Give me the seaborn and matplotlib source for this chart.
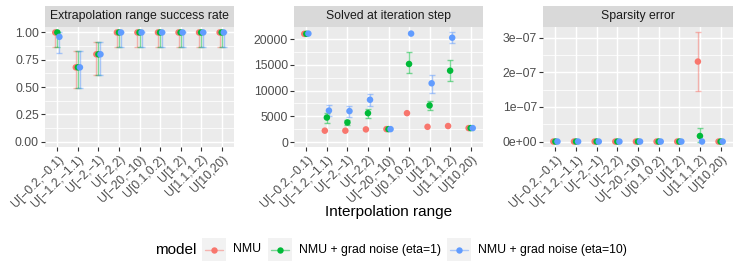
import numpy as np
import pandas as pd
import matplotlib.pyplot as plt
from matplotlib.patches import Rectangle
from matplotlib.lines import Line2D
from matplotlib.ticker import MultipleLocator, FuncFormatter
import seaborn as sns

# ---- data ----
ranges = ['U[−0.2,−0.1)', 'U[−1.2,−1.1)', 'U[−2,−1)', 'U[−2,2)', 'U[−20,−10)',
          'U[0.1,0.2)', 'U[1,2)', 'U[1.1,1.2)', 'U[10,20)']
models = ['NMU', 'NMU + grad noise (eta=1)', 'NMU + grad noise (eta=10)']
colors = ['#F8766D', '#00BA38', '#619CFF']
nan = np.nan

# Extrapolation range success rate
succ_nmu = [1.0, 0.68, 0.80, 1.0, 1.0, 1.0, 1.0, 1.0, 1.0]
succ_nmu_lo = [0.87, 0.49, 0.61, 0.87, 0.87, 0.87, 0.87, 0.87, 0.87]
succ_nmu_hi = [1.0, 0.83, 0.91, 1.0, 1.0, 1.0, 1.0, 1.0, 1.0]
succ_eta1 = [1.0, 0.68, 0.80, 1.0, 1.0, 1.0, 1.0, 1.0, 1.0]
succ_eta1_lo = [0.87, 0.49, 0.61, 0.87, 0.87, 0.87, 0.87, 0.87, 0.87]
succ_eta1_hi = [1.0, 0.83, 0.91, 1.0, 1.0, 1.0, 1.0, 1.0, 1.0]
succ_eta10 = [0.96, 0.68, 0.80, 1.0, 1.0, 1.0, 1.0, 1.0, 1.0]
succ_eta10_lo = [0.81, 0.49, 0.61, 0.87, 0.87, 0.87, 0.87, 0.87, 0.87]
succ_eta10_hi = [1.0, 0.83, 0.91, 1.0, 1.0, 1.0, 1.0, 1.0, 1.0]

# Solved at iteration step
step_nmu = [21000, 2200, 2200, 2450, 2500, 5600, 2950, 3100, 2700]
step_nmu_lo = [nan] * 9
step_nmu_hi = [nan] * 9
step_eta1 = [21000, 4750, 3800, 5600, 2500, 15150, 7100, 13850, 2700]
step_eta1_lo = [nan, 3680, 3230, 4700, nan, 13350, 6250, 11850, nan]
step_eta1_hi = [nan, 5600, 4320, 6380, nan, 17400, 7950, 15950, nan]
step_eta10 = [21050, 6100, 6000, 8200, 2500, 21050, 11400, 20250, 2700]
step_eta10_lo = [nan, 5100, 4950, 7030, nan, nan, 9480, 19150, nan]
step_eta10_hi = [nan, 7220, 7030, 9290, nan, nan, 13100, 21300, nan]

# Sparsity error
sparse_nmu = [0, 0, 0, 0, 0, 0, 0, 2.31e-7, 0]
sparse_nmu_lo = [nan, nan, nan, nan, nan, nan, nan, 1.47e-7, nan]
sparse_nmu_hi = [nan, nan, nan, nan, nan, nan, nan, 3.15e-7, nan]
sparse_eta1 = [0, 0, 0, 0, 0, 0, 0, 1.6e-8, 0]
sparse_eta1_lo = [nan, nan, nan, nan, nan, nan, nan, 0.0, nan]
sparse_eta1_hi = [nan, nan, nan, nan, nan, nan, nan, 4.0e-8, nan]
sparse_eta10 = [0, 0, 0, 0, 0, 0, 0, 0, 0]
sparse_eta10_lo = [nan] * 9
sparse_eta10_hi = [nan] * 9

panels = [
    ('Extrapolation range success rate',
     [(succ_nmu, succ_nmu_lo, succ_nmu_hi), (succ_eta1, succ_eta1_lo, succ_eta1_hi),
      (succ_eta10, succ_eta10_lo, succ_eta10_hi)]),
    ('Solved at iteration step',
     [(step_nmu, step_nmu_lo, step_nmu_hi), (step_eta1, step_eta1_lo, step_eta1_hi),
      (step_eta10, step_eta10_lo, step_eta10_hi)]),
    ('Sparsity error',
     [(sparse_nmu, sparse_nmu_lo, sparse_nmu_hi), (sparse_eta1, sparse_eta1_lo, sparse_eta1_hi),
      (sparse_eta10, sparse_eta10_lo, sparse_eta10_hi)]),
]

# ---- style ----
sns.set_theme(style='darkgrid', rc={
    'axes.facecolor': '#EBEBEB',
    'grid.color': 'white',
    'axes.edgecolor': 'none',
    'xtick.bottom': True,
    'ytick.left': True,
    'xtick.color': '#333333',
    'ytick.color': '#333333',
    'xtick.labelcolor': '#4D4D4D',
    'ytick.labelcolor': '#4D4D4D',
    'xtick.major.size': 2.75,
    'ytick.major.size': 2.75,
    'xtick.major.width': 0.8,
    'ytick.major.width': 0.8,
    'xtick.major.pad': 1.6,
    'ytick.major.pad': 1.6,
    'xtick.labelsize': 8.8,
    'ytick.labelsize': 8.8,
})
plt.rcParams['font.family'] = ['Liberation Sans', 'DejaVu Sans']

W, H = 747, 273
fig = plt.figure(figsize=(W / 100, H / 100), dpi=100)

def fx(px):
    return px / W

def fy(py):
    return 1 - py / H

panel_x = [(45, 234), (294, 483), (543, 733)]
top, bottom = 27, 147
offsets = [-0.1, 0.0, 0.1]

ylims = [(-0.05, 1.05), (-970, 22330), (-1.575e-8, 3.3075e-7)]
major = [0.25, 5000, 1e-7]

def sci(v, pos):
    s = f'{v:.0e}'.replace('-', '−')
    return s

formatters = [FuncFormatter(lambda v, p: f'{v:.2f}'),
              FuncFormatter(lambda v, p: f'{v:.0f}'),
              FuncFormatter(sci)]

xi = np.arange(len(ranges))
for k, (title, series) in enumerate(panels):
    x0, x1 = panel_x[k]
    ax = fig.add_axes([fx(x0), fy(bottom), fx(x1) - fx(x0), fy(top) - fy(bottom)])
    rows = []
    for m, (vals, lo, hi) in enumerate(series):
        for i in range(len(ranges)):
            rows.append({'x': xi[i] + offsets[m], 'value': vals[i],
                         'lo': lo[i], 'hi': hi[i], 'model': models[m]})
    df = pd.DataFrame(rows)
    for m, model in enumerate(models):
        d = df[(df.model == model) & df.lo.notna()]
        if len(d):
            ax.errorbar(d.x, d.value, yerr=[d.value - d.lo, d.hi - d.value], fmt='none',
                        ecolor=colors[m], alpha=0.5, elinewidth=1.0, capsize=2.4,
                        capthick=1.0, zorder=2)
    sns.scatterplot(data=df, x='x', y='value', hue='model', hue_order=models,
                    palette=colors, s=22, linewidth=0, legend=False, ax=ax, zorder=3)
    ax.set_xlim(-0.6, len(ranges) - 0.4)
    ax.set_ylim(*ylims[k])
    ax.set_xticks(xi)
    ax.set_xticklabels(ranges, rotation=45, ha='right', va='top', rotation_mode='anchor')
    ax.yaxis.set_major_locator(MultipleLocator(major[k]))
    ax.yaxis.set_minor_locator(MultipleLocator(major[k] / 2))
    ax.yaxis.set_major_formatter(formatters[k])
    ax.grid(which='major', linewidth=1.07, color='white')
    ax.grid(which='minor', axis='y', linewidth=0.55, color='white')
    ax.tick_params(which='minor', length=0)
    ax.set_xlabel('')
    ax.set_ylabel('')
    # facet strip
    strip_h = (top - 6) / (bottom - top)
    ax.add_patch(Rectangle((0, 1), 1, strip_h, transform=ax.transAxes,
                           facecolor='#D9D9D9', edgecolor='none', clip_on=False))
    ax.text(0.5, 1 + strip_h / 2, title, transform=ax.transAxes, ha='center',
            va='center', fontsize=8.8, color='#1A1A1A')

fig.text(fx(389), fy(212), 'Interpolation range', ha='center', va='center',
         fontsize=11, color='black')

# legend (ggplot style, bottom, horizontal)
fig.text(fx(155), fy(249.5), 'model', ha='left', va='center', fontsize=11, color='black')
key_x = [202, 268, 447]
for m, model in enumerate(models):
    kx = key_x[m]
    fig.add_artist(Rectangle((fx(kx), fy(261)), fx(kx + 24) - fx(kx), fy(238) - fy(261),
                             transform=fig.transFigure, facecolor='#F2F2F2', edgecolor='none'))
    fig.add_artist(Line2D([fx(kx + 3), fx(kx + 21)], [fy(249.5), fy(249.5)],
                          transform=fig.transFigure, color=colors[m], alpha=0.5, lw=1.0))
    fig.add_artist(Line2D([fx(kx + 12)], [fy(249.5)], transform=fig.transFigure,
                          marker='o', markersize=4.6, markeredgewidth=0, color=colors[m]))
    fig.text(fx(kx + 31), fy(249.5), model, ha='left', va='center', fontsize=8.8,
             color='black')

fig.savefig('out.png', dpi=100)
